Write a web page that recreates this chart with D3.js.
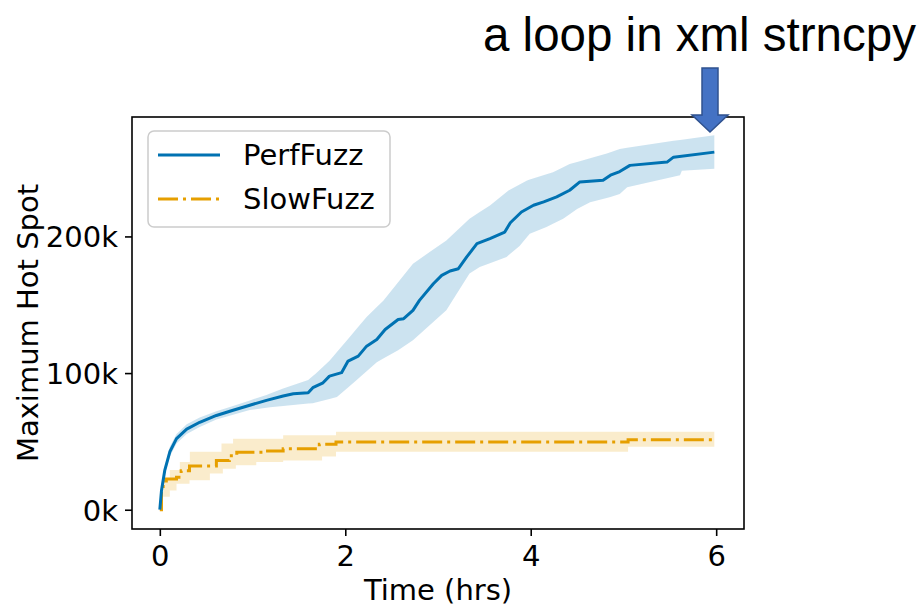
<!DOCTYPE html>
<html><head><meta charset="utf-8">
<script src="https://cdn.jsdelivr.net/npm/d3@7"></script>
<style>body{margin:0;background:#fff}svg{display:block}</style>
</head><body>
<svg id="chart" width="924" height="608"></svg>
<script>
// ---- data (time in hours, values in thousands) ----
const xTicks = [0, 2, 4, 6];
const yTicks = [0, 100, 200];
const seriesNames = ["PerfFuzz", "SlowFuzz"];
const seriesColors = ["#0072B2", "#E69F00"];

const perfT = [0,0.018,0.054,0.108,0.18,0.29,0.43,0.61,0.79,0.97,1.15,1.33,1.44,1.60,1.65,1.76,1.83,1.96,2.03,2.14,2.23,2.34,2.43,2.57,2.63,2.73,2.80,2.95,3.04,3.13,3.22,3.31,3.42,3.56,3.72,3.78,3.90,4.03,4.14,4.28,4.42,4.53,4.78,4.86,4.96,5.07,5.47,5.54,5.98];
const perfV = [0,14,29,42.4,52,59,64,69,72.8,76.5,80,83.2,84.9,85.6,89.3,92.9,97.8,100.3,108.8,112.4,119.7,124.6,131.9,139.2,139.8,145.9,153.2,165.4,171.5,174.7,176.4,185,194.7,198.4,203.2,210,217.9,222.8,225.3,228.9,233.8,239.9,241.1,244.8,247.5,252,254.4,258,261.7];

const perfUpT = [0,0.018,0.054,0.108,0.18,0.29,0.43,0.61,0.79,0.97,1.15,1.33,1.6,1.68,1.83,2.03,2.23,2.41,2.73,2.91,3.09,3.34,3.56,3.76,3.96,4.24,4.42,4.82,4.96,5.54,5.98];
const perfUpV = [0,17,32,46,55.5,62.5,67.5,72,76,80,84,88.7,95,99.6,109,125,141,153,180,188.6,197,213,222.7,233.7,241,247,253,260.6,264,270,274];
const perfLoT = [0,0.018,0.054,0.108,0.18,0.29,0.43,0.61,0.79,0.97,1.19,1.65,1.91,2.12,2.34,2.57,2.73,3.09,3.34,3.45,3.74,3.88,3.99,4.17,4.35,4.50,4.64,4.86,4.96,5.04,5.61,5.63,5.98];
const perfLoV = [0,11,26,39,48.5,55.5,60.5,66,69.5,73,75,78,82.5,94.7,108,116.7,124,146,172.8,177.6,185,193,202,206.9,213,220,225,228.8,231,236,244.7,248,249.6];

const slowT = [0,0.018,0.036,0.07,0.18,0.23,0.32,0.61,0.75,0.83,1.11,1.33,1.72,1.90,5.05,5.98];
const slowV = [0,13,21,22.5,23.7,28.5,32,36,39.5,42,43,44.6,48,49.5,51.2,51.2];
const slowUpT = [0,0.036,0.108,0.216,0.324,0.665,0.79,1.33,1.9,5.98];
const slowUpV = [0,23,29,35,42.4,48.5,52,54.5,57,57];
const slowLoT = [0,0.036,0.108,0.18,0.32,0.54,0.68,0.82,1.04,1.33,1.75,1.9,5.05,5.98];
const slowLoV = [0,9.5,14,19,21.6,26.5,30,32.5,35,36,39,42.5,46,46];

const titleText = "a loop in xml strncpy";
const xLabel = "Time (hrs)";
const yLabel = "Maximum Hot Spot";

// ---- layout ----
const svg = d3.select("#chart");
const L = 132, R = 744, T = 117, B = 529;
const x = d3.scaleLinear().domain([-0.3, 6.3]).range([L, R]);
const y = d3.scaleLinear().domain([-14.1, 287.4]).range([B, T]);
const FONT = "DejaVu Sans, sans-serif";

function band(tU, vU, tL, vL) {
  const times = Array.from(new Set(tU.concat(tL))).sort((a,b)=>a-b);
  const valAt = (ts, vs, t) => { let v = vs[0]; for (let i=0;i<ts.length;i++){ if (ts[i] <= t) v = vs[i]; } return v; };
  return times.map(t => ({t, u: valAt(tU, vU, t), l: valAt(tL, vL, t)}));
}
function bandLinear(tU, vU, tL, vL) {
  const times = Array.from(new Set(tU.concat(tL))).sort((a,b)=>a-b);
  const interp = (ts, vs, t) => {
    for (let i=0;i<ts.length-1;i++){ if (t>=ts[i] && t<=ts[i+1]) return vs[i] + (vs[i+1]-vs[i])*(t-ts[i])/(ts[i+1]-ts[i]); }
    return vs[vs.length-1];
  };
  return times.map(t => ({t, u: interp(tU, vU, t), l: interp(tL, vL, t)}));
}

const perfBand = bandLinear(perfUpT, perfUpV, perfLoT, perfLoV);
const slowBand = band(slowUpT, slowUpV, slowLoT, slowLoV);

const area = (curve) => d3.area().x(d=>x(d.t)).y0(d=>y(d.l)).y1(d=>y(d.u)).curve(curve);
const plot = svg.append("g");

plot.append("path").datum(perfBand).attr("d", area(d3.curveLinear))
  .attr("fill", seriesColors[0]).attr("fill-opacity", 0.2);
plot.append("path").datum(slowBand).attr("d", area(d3.curveStepAfter))
  .attr("fill", seriesColors[1]).attr("fill-opacity", 0.2);

const perfData = perfT.map((t,i)=>({t, v: perfV[i]}));
const slowData = slowT.map((t,i)=>({t, v: slowV[i]}));

plot.append("path").datum(slowData)
  .attr("d", d3.line().x(d=>x(d.t)).y(d=>y(d.v)).curve(d3.curveStepAfter))
  .attr("fill", "none").attr("stroke", seriesColors[1]).attr("stroke-width", 3)
  .attr("stroke-dasharray", "20,5,3,5");
plot.append("path").datum(perfData)
  .attr("d", d3.line().x(d=>x(d.t)).y(d=>y(d.v)))
  .attr("fill", "none").attr("stroke", seriesColors[0]).attr("stroke-width", 3)
  .attr("stroke-linejoin", "round");

// ---- axes ----
const xAxis = svg.append("g").attr("transform", `translate(0,${B})`)
  .call(d3.axisBottom(x).tickValues(xTicks).tickSize(7).tickPadding(9).tickFormat(d3.format("d")));
const yAxis = svg.append("g").attr("transform", `translate(${L},0)`)
  .call(d3.axisLeft(y).tickValues(yTicks).tickSize(7).tickPadding(7).tickFormat(d => d + "k"));
[xAxis, yAxis].forEach(g => {
  g.select(".domain").remove();
  g.selectAll(".tick line").attr("stroke", "#000").attr("stroke-width", 1.6);
  g.selectAll(".tick text").attr("font-family", FONT).attr("font-size", 29).attr("fill", "#000");
});
yAxis.selectAll(".tick text").attr("dy", "0.36em");

svg.append("rect").attr("x", L).attr("y", T).attr("width", R-L).attr("height", B-T)
  .attr("fill", "none").attr("stroke", "#000").attr("stroke-width", 1.6);

svg.append("text").attr("x", (L+R)/2).attr("y", 600).attr("text-anchor", "middle")
  .attr("font-family", FONT).attr("font-size", 29).text(xLabel);
svg.append("text").attr("transform", `translate(38,${(T+B)/2}) rotate(-90)`).attr("text-anchor", "middle")
  .attr("font-family", FONT).attr("font-size", 29).text(yLabel);

// ---- legend ----
const lg = svg.append("g");
lg.append("rect").attr("x", 148).attr("y", 131).attr("width", 242).attr("height", 96).attr("rx", 6)
  .attr("fill", "#fff").attr("fill-opacity", 0.8).attr("stroke", "#cccccc").attr("stroke-width", 1.5);
seriesNames.forEach((name, i) => {
  const yy = 155 + i*44;
  lg.append("line").attr("x1", 158).attr("x2", 220).attr("y1", yy).attr("y2", yy)
    .attr("stroke", seriesColors[i]).attr("stroke-width", 3)
    .attr("stroke-dasharray", i === 1 ? "20,5,3,5" : null);
  lg.append("text").attr("x", 243).attr("y", yy + 10).attr("font-family", FONT).attr("font-size", 29)
    .attr("fill", "#000").text(name);
});

// ---- annotation ----
svg.append("text").attr("x", 483).attr("y", 51).attr("font-family", "Liberation Sans, Arial, sans-serif")
  .attr("font-size", 47.5).attr("fill", "#000").text(titleText);
svg.append("path")
  .attr("d", "M702,68 L718,68 L718,115 L728,115 L710,132 L692,115 L702,115 Z")
  .attr("fill", "#4472C4").attr("stroke", "#2F528F").attr("stroke-width", 1.5);
</script>
</body></html>
